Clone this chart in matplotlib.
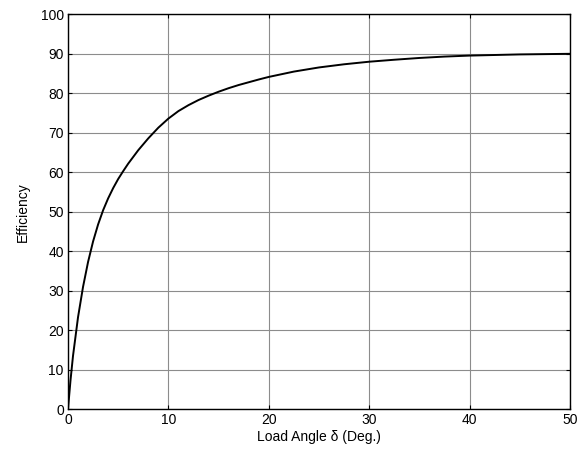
import matplotlib
matplotlib.use("Agg")
import matplotlib.pyplot as plt

plt.rcParams['font.family'] = ['Liberation Sans', 'DejaVu Sans']

load_angle = [0, 0.25, 0.5, 1.0, 1.5, 2.0, 2.5, 3.0, 3.5, 4.0, 4.5, 5.0, 5.5, 6.0,
              7, 8, 9, 10, 11, 12, 13, 14, 15, 16, 17, 18, 19, 20,
              22.5, 25, 27.5, 30, 32.5, 35, 37.5, 40, 45, 50]
efficiency = [0, 7.3, 13.5, 23.3, 31.0, 37.3, 42.5, 46.8, 50.4, 53.4, 56.0, 58.3, 60.3, 62.2,
              65.6, 68.6, 71.3, 73.6, 75.5, 77.0, 78.3, 79.4, 80.4, 81.3, 82.1, 82.8, 83.5, 84.15,
              85.5, 86.55, 87.35, 88.0, 88.5, 88.95, 89.3, 89.55, 89.85, 90.0]
x_ticks = [0, 10, 20, 30, 40, 50]
y_ticks = [0, 10, 20, 30, 40, 50, 60, 70, 80, 90, 100]

fig = plt.figure(figsize=(5.82, 4.53), dpi=100)
ax = fig.add_axes([0.1168, 0.0965, 0.8626, 0.8719])
ax.plot(load_angle, efficiency, color='black', lw=1.4, solid_joinstyle='round')
ax.set_xlim(0, 50)
ax.set_ylim(0, 100)
ax.set_xticks(x_ticks)
ax.set_yticks(y_ticks)
ax.grid(True, color='#8c8c8c', lw=0.8)
ax.tick_params(direction='in', top=True, right=True, labelsize=10, length=3, width=0.8, pad=3)
for s in ax.spines.values():
    s.set_linewidth(1.0)
ax.set_xlabel('Load Angle δ (Deg.)', fontsize=10, labelpad=2)
ax.set_ylabel('Efficiency', fontsize=10, labelpad=8)
fig.savefig('out.png', dpi=100)
